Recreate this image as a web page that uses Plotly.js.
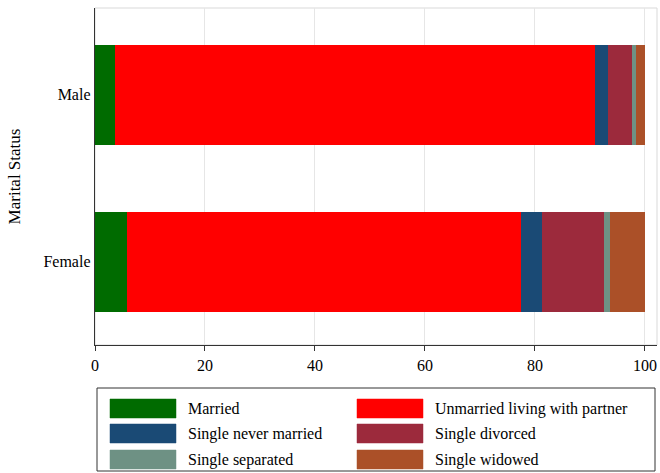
<!DOCTYPE html>
<html><head><meta charset="utf-8">
<script src="https://cdn.plot.ly/plotly-3.0.1.min.js"></script>
<style>html,body{margin:0;padding:0;background:#fff}#chart{width:660px;height:473px}</style>
</head><body><div id="chart"></div>
<script>
const categories = ['Female', 'Male'];
const seriesNames = ['Married', 'Unmarried living with partner', 'Single never married', 'Single divorced', 'Single separated', 'Single widowed'];
const married = [5.9, 3.6];
const unmarried = [71.6, 87.3];
const neverMarried = [3.7, 2.3];
const divorced = [11.3, 4.5];
const separated = [1.1, 0.7];
const widowed = [6.4, 1.6];
const colors = ['#006b00', '#ff0000', '#1a4a75', '#9c2a3c', '#6e9184', '#ab5028'];
const xTicks = [0, 20, 40, 60, 80, 100];

const seriesValues = [married, unmarried, neverMarried, divorced, separated, widowed];
const FONT = 'Liberation Serif, Times New Roman, serif';

const traces = seriesValues.map((vals, i) => ({
  type: 'bar', orientation: 'h', y: categories, x: vals, name: seriesNames[i],
  marker: {color: colors[i], line: {color: colors[i], width: 0}},
  width: 0.6, showlegend: false, hoverinfo: 'x+name'
}));

// plot area in pixels
const L = 95, R = 657, T = 8, B = 345;
const px = x => (x - L) / (R - L);
const py = y => (B - y) / (B - T);

const shapes = [
  {type: 'rect', xref: 'paper', yref: 'paper', x0: 0, x1: 1, y0: 0, y1: 1, line: {color: '#d9d9d9', width: 1}, layer: 'below'},
  {type: 'rect', xref: 'paper', yref: 'paper', x0: px(97), x1: px(655), y0: py(388), y1: py(471), line: {color: '#333', width: 1}, fillcolor: 'rgba(0,0,0,0)'}
];
const annotations = [];
const colX = [110, 357], textX = [186, 433], rowTop = [399, 424, 450];
seriesNames.forEach((n, i) => {
  const col = i % 2, row = Math.floor(i / 2);
  shapes.push({type: 'rect', xref: 'paper', yref: 'paper', x0: px(colX[col]), x1: px(colX[col] + 66),
    y0: py(rowTop[row]), y1: py(rowTop[row] + 19), fillcolor: colors[i], line: {color: colors[i], width: 0.5}});
  annotations.push({xref: 'paper', yref: 'paper', x: px(textX[col]), y: py(rowTop[row] + 9.5), xanchor: 'left', yanchor: 'middle',
    text: n, showarrow: false, font: {family: FONT, size: 16, color: '#000'}});
});

const layout = {
  width: 660, height: 473,
  margin: {l: L, r: 660 - R, t: T, b: 473 - B},
  paper_bgcolor: '#fff', plot_bgcolor: '#fff',
  barmode: 'stack', showlegend: false,
  font: {family: FONT, size: 16, color: '#000'},
  xaxis: {range: [0, 102.2], tickvals: xTicks, ticktext: xTicks.map(String), showgrid: true, gridcolor: '#e6e6e6', gridwidth: 1,
    zeroline: false, showline: true, linecolor: '#333', linewidth: 1.3, ticks: 'outside', ticklen: 5, tickcolor: '#333',
    tickfont: {family: FONT, size: 16, color: '#000'}, fixedrange: true},
  yaxis: {type: 'category', categoryarray: categories, range: [-0.5, 1.52], showgrid: false, zeroline: false,
    showline: true, linecolor: '#333', linewidth: 1.3, ticks: '', ticklen: 0,
    tickfont: {family: FONT, size: 16, color: '#000'},
    title: {text: 'Marital Status', font: {family: FONT, size: 17, color: '#000'}, standoff: 18}, fixedrange: true},
  shapes: shapes, annotations: annotations
};
Plotly.newPlot('chart', traces, layout, {displayModeBar: false, staticPlot: true});
</script></body></html>
